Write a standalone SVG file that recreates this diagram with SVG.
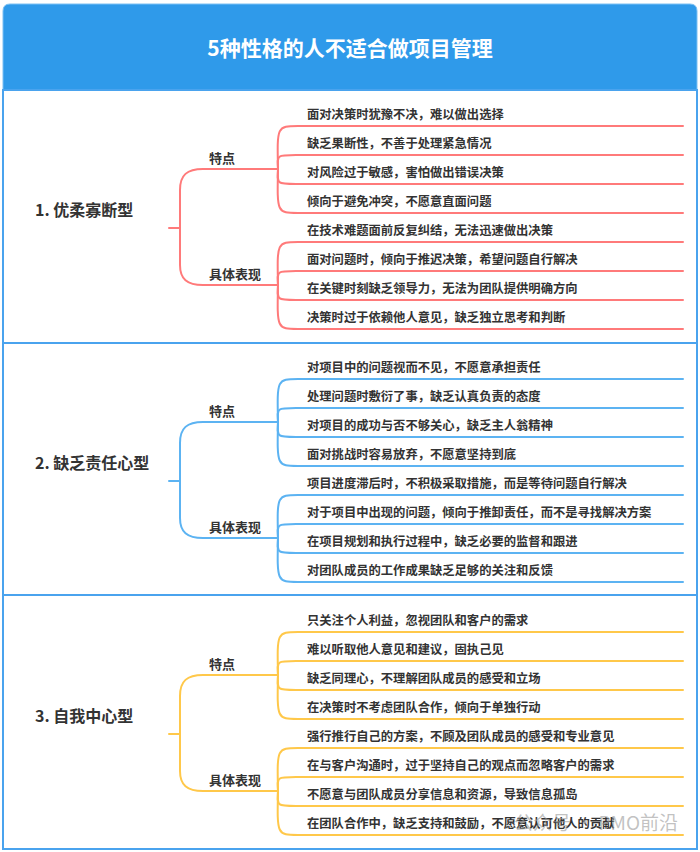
<svg xmlns="http://www.w3.org/2000/svg" width="700" height="852" viewBox="0 0 700 852">
<style>
text{font-family:"Noto Sans CJK SC","Noto Sans",sans-serif;fill:#333;font-weight:bold}
.title{font-size:21px;fill:#fff;text-anchor:middle}
.root{font-size:16px}
.sub{font-size:13px}
.leaf{font-size:12.3px}
.c{fill:none;stroke-width:2;stroke-linecap:round}
.red{stroke:#FF7A7A}
.blue{stroke:#5CB3F2}
.yellow{stroke:#FFC84A}
.div{stroke:#4AA3EE;stroke-width:2;fill:none}
</style>
<rect x="0" y="0" width="700" height="852" fill="#fff"/>
<g id="header">
<path d="M3,90 V11 Q3,4 10,4 H690 Q697,4 697,11 V90 Z" fill="#2F9AEA" stroke="#7CC0F3" stroke-width="1"/>
<text class="title" x="350" y="56">5种性格的人不适合做项目管理</text>
</g>
<g id="frame">
<rect class="div" x="3" y="90" width="694" height="759" stroke-width="1.5"/>
<line class="div" x1="3" y1="343" x2="697" y2="343"/>
<line class="div" x1="3" y1="595" x2="697" y2="595"/>
<line class="div" x1="3" y1="849" x2="697" y2="849"/>
</g>

<g id="connectors">
<g class="c red" transform="translate(0,0)">
<path d="M169,228 H180"/>
<path d="M180,228 V190 C180,175 187,169 203,169 H278"/>
<path d="M180,228 V265 C180,279 187,285 203,285 H278"/>
<path d="M278,169 C277,126 277,126 298,126 H683"/>
<path d="M278,169 C277,155 277,155 296,155 H683"/>
<path d="M278,169 C277,184 277,184 296,184 H683"/>
<path d="M278,169 C277,213 277,213 298,213 H683"/>
<path d="M278,285 C277,242 277,242 298,242 H683"/>
<path d="M278,285 C277,271 277,271 296,271 H683"/>
<path d="M278,285 C277,300 277,300 296,300 H683"/>
<path d="M278,285 C277,329 277,329 298,329 H683"/>
</g>
<g class="c blue" transform="translate(0,253)">
<path d="M169,228 H180"/>
<path d="M180,228 V190 C180,175 187,169 203,169 H278"/>
<path d="M180,228 V265 C180,279 187,285 203,285 H278"/>
<path d="M278,169 C277,126 277,126 298,126 H683"/>
<path d="M278,169 C277,155 277,155 296,155 H683"/>
<path d="M278,169 C277,184 277,184 296,184 H683"/>
<path d="M278,169 C277,213 277,213 298,213 H683"/>
<path d="M278,285 C277,242 277,242 298,242 H683"/>
<path d="M278,285 C277,271 277,271 296,271 H683"/>
<path d="M278,285 C277,300 277,300 296,300 H683"/>
<path d="M278,285 C277,329 277,329 298,329 H683"/>
</g>
<g class="c yellow" transform="translate(0,506)">
<path d="M169,228 H180"/>
<path d="M180,228 V190 C180,175 187,169 203,169 H278"/>
<path d="M180,228 V265 C180,279 187,285 203,285 H278"/>
<path d="M278,169 C277,126 277,126 298,126 H683"/>
<path d="M278,169 C277,155 277,155 296,155 H683"/>
<path d="M278,169 C277,184 277,184 296,184 H683"/>
<path d="M278,169 C277,213 277,213 298,213 H683"/>
<path d="M278,285 C277,242 277,242 298,242 H683"/>
<path d="M278,285 C277,271 277,271 296,271 H683"/>
<path d="M278,285 C277,300 277,300 296,300 H683"/>
<path d="M278,285 C277,329 277,329 298,329 H683"/>
</g>
</g>

<g id="section1">
<g id="s1-root"><text class="root" x="35" y="216">1. 优柔寡断型</text></g>
<g id="s1-traits"><text class="sub" x="209" y="163">特点</text></g>
<g id="s1-shows"><text class="sub" x="209" y="279">具体表现</text></g>
<g id="s1-l1"><text class="leaf" x="307" y="119">面对决策时犹豫不决，难以做出选择</text></g>
<g id="s1-l2"><text class="leaf" x="307" y="148">缺乏果断性，不善于处理紧急情况</text></g>
<g id="s1-l3"><text class="leaf" x="307" y="177">对风险过于敏感，害怕做出错误决策</text></g>
<g id="s1-l4"><text class="leaf" x="307" y="206">倾向于避免冲突，不愿意直面问题</text></g>
<g id="s1-l5"><text class="leaf" x="307" y="235">在技术难题面前反复纠结，无法迅速做出决策</text></g>
<g id="s1-l6"><text class="leaf" x="307" y="264">面对问题时，倾向于推迟决策，希望问题自行解决</text></g>
<g id="s1-l7"><text class="leaf" x="307" y="293">在关键时刻缺乏领导力，无法为团队提供明确方向</text></g>
<g id="s1-l8"><text class="leaf" x="307" y="322">决策时过于依赖他人意见，缺乏独立思考和判断</text></g>
</g>

<g id="section2" transform="translate(0,253)">
<g id="s2-root"><text class="root" x="35" y="216">2. 缺乏责任心型</text></g>
<g id="s2-traits"><text class="sub" x="209" y="163">特点</text></g>
<g id="s2-shows"><text class="sub" x="209" y="279">具体表现</text></g>
<g id="s2-l1"><text class="leaf" x="307" y="119">对项目中的问题视而不见，不愿意承担责任</text></g>
<g id="s2-l2"><text class="leaf" x="307" y="148">处理问题时敷衍了事，缺乏认真负责的态度</text></g>
<g id="s2-l3"><text class="leaf" x="307" y="177">对项目的成功与否不够关心，缺乏主人翁精神</text></g>
<g id="s2-l4"><text class="leaf" x="307" y="206">面对挑战时容易放弃，不愿意坚持到底</text></g>
<g id="s2-l5"><text class="leaf" x="307" y="235">项目进度滞后时，不积极采取措施，而是等待问题自行解决</text></g>
<g id="s2-l6"><text class="leaf" x="307" y="264">对于项目中出现的问题，倾向于推卸责任，而不是寻找解决方案</text></g>
<g id="s2-l7"><text class="leaf" x="307" y="293">在项目规划和执行过程中，缺乏必要的监督和跟进</text></g>
<g id="s2-l8"><text class="leaf" x="307" y="322">对团队成员的工作成果缺乏足够的关注和反馈</text></g>
</g>

<g id="section3" transform="translate(0,506)">
<g id="s3-root"><text class="root" x="35" y="216">3. 自我中心型</text></g>
<g id="s3-traits"><text class="sub" x="209" y="163">特点</text></g>
<g id="s3-shows"><text class="sub" x="209" y="279">具体表现</text></g>
<g id="s3-l1"><text class="leaf" x="307" y="119">只关注个人利益，忽视团队和客户的需求</text></g>
<g id="s3-l2"><text class="leaf" x="307" y="148">难以听取他人意见和建议，固执己见</text></g>
<g id="s3-l3"><text class="leaf" x="307" y="177">缺乏同理心，不理解团队成员的感受和立场</text></g>
<g id="s3-l4"><text class="leaf" x="307" y="206">在决策时不考虑团队合作，倾向于单独行动</text></g>
<g id="s3-l5"><text class="leaf" x="307" y="235">强行推行自己的方案，不顾及团队成员的感受和专业意见</text></g>
<g id="s3-l6"><text class="leaf" x="307" y="264">在与客户沟通时，过于坚持自己的观点而忽略客户的需求</text></g>
<g id="s3-l7"><text class="leaf" x="307" y="293">不愿意与团队成员分享信息和资源，导致信息孤岛</text></g>
<g id="s3-l8"><text class="leaf" x="307" y="322">在团队合作中，缺乏支持和鼓励，不愿意认可他人的贡献</text></g>
</g>

<g id="watermark">
<text x="678" y="830" text-anchor="end" style="font-size:19px;font-weight:normal;fill:#999;fill-opacity:0.6">公众号 · PMO前沿</text>
</g>
</svg>
